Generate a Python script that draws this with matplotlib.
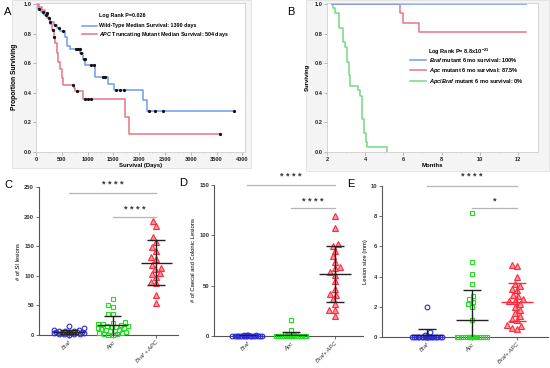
import numpy as np
import matplotlib
matplotlib.use("Agg")
import matplotlib.pyplot as plt
from matplotlib.patches import Rectangle
from matplotlib.lines import Line2D

plt.rcParams['font.family'] = ['Liberation Sans', 'DejaVu Sans']
plt.rcParams['mathtext.fontset'] = 'custom'
plt.rcParams['mathtext.rm'] = 'Liberation Sans:bold'
plt.rcParams['mathtext.it'] = 'Liberation Sans:italic:bold'
plt.rcParams['mathtext.bf'] = 'Liberation Sans:bold'

# ----- panel A: TCGA survival (days) -----
wt_days = [0, 45, 100, 160, 210, 270, 340, 400, 470, 560, 600, 660, 860, 920, 955, 1150, 1390, 1505, 2075, 2155, 3840]
wt_surv = [1.0, 0.97, 0.95, 0.93, 0.91, 0.88, 0.86, 0.84, 0.82, 0.78, 0.72, 0.70, 0.67, 0.63, 0.59, 0.51, 0.46, 0.42, 0.35, 0.28, 0.28]
wt_censor = [65, 130, 195, 272, 370, 454, 532, 778, 811, 843, 876, 921, 940, 1064, 1116, 1291, 1330, 1550, 1635, 1713, 2199, 2303, 2459, 3840]

apc_days = [0, 60, 120, 180, 240, 275, 305, 340, 370, 400, 435, 465, 500, 532, 740, 760, 920, 1720, 1800, 3565]
apc_surv = [1.0, 0.98, 0.96, 0.94, 0.91, 0.87, 0.83, 0.78, 0.74, 0.67, 0.61, 0.56, 0.50, 0.455, 0.435, 0.415, 0.36, 0.24, 0.12, 0.12]
apc_censor = [208, 260, 325, 357, 720, 804, 954, 1006, 1064, 3563]

# ----- panel B: mouse survival (months) -----
braf_m = [2.25, 12.44]
braf_s = [1.0, 1.0]
apcm_m = [2.25, 5.82, 5.96, 6.83, 12.44]
apcm_s = [1.0, 0.94, 0.877, 0.815, 0.815]
combo_m = [2.25, 2.30, 2.42, 2.63, 2.82, 2.94, 3.03, 3.15, 3.22, 3.60, 3.72, 3.83, 3.92, 4.02, 4.11, 5.12]
combo_s = [1.0, 0.977, 0.94, 0.84, 0.745, 0.71, 0.61, 0.52, 0.45, 0.42, 0.38, 0.225, 0.13, 0.067, 0.035, 0.0]

# ----- panels C-E: lesion counts / sizes -----
c_braf = [15, 12, 9, 8, 7, 6, 6, 5, 5, 5, 5, 4, 4, 4, 3, 3, 2, 2, 1, 1, 0]
c_apc = [61, 50, 48, 36, 35, 22, 20, 19, 18, 17, 16, 15, 14, 13, 12, 11, 10, 9, 8, 7, 6, 5, 4, 3, 2, 1, 0, 0]
c_combo = [192, 184, 165, 157, 149, 142, 131, 128, 118, 114, 111, 105, 103, 98, 90, 88, 67, 54]

d_braf = [1, 1, 1, 0.5, 0, 0, 0, 0, 0, 0, 0, 0, 0, 0, 0, 0, 0, 0, 0, 0]
d_apc = [16, 6, 2, 2, 1, 1, 0, 0, 0, 0, 0, 0, 0, 0, 0, 0, 0, 0, 0, 0, 0, 0, 0, 0, 0, 0]
d_combo = [119, 107, 91, 89, 84, 79, 74, 69, 68, 64, 61, 55, 47, 42, 41, 37, 32, 26, 26, 20]

e_braf = [2.0, 0.3, 0.1, 0, 0, 0, 0, 0, 0, 0, 0, 0, 0, 0, 0, 0, 0, 0, 0, 0, 0, 0]
e_apc = [8.2, 5.0, 4.2, 3.5, 2.7, 2.5, 2.3, 2.2, 2.0, 1.1, 0, 0, 0, 0, 0, 0, 0, 0, 0, 0, 0, 0, 0, 0, 0, 0, 0, 0, 0, 0]
e_combo = [4.8, 4.7, 4.0, 3.5, 3.4, 3.2, 3.1, 2.8, 2.7, 2.5, 2.4, 2.4, 2.2, 2.0, 1.8, 1.6, 1.4, 1.2, 1.1, 0.8, 0.7, 0.6, 0.5]

BLUE_KM = "#6f9deb"
RED_KM = "#ea7482"
GREEN_KM = "#78d786"
BLUE = "#2a2ad8"
GREEN = "#22dd22"
RED = "#ff2a3a"

W, H = 550, 368


def box(x0, y0, x1, y1):
    return [x0 / W, 1 - y1 / H, (x1 - x0) / W, (y1 - y0) / H]


def step_value(xs, ys, t):
    i = np.searchsorted(xs, t, side="right") - 1
    return np.asarray(ys)[np.clip(i, 0, len(ys) - 1)]


def style_km(ax):
    for s in ax.spines.values():
        s.set_color("#cfcfcf")
        s.set_linewidth(0.6)
    ax.tick_params(length=2, width=0.5, color="#9a9a9a", labelsize=4.1,
                   labelcolor="#222222", pad=1.5)
    ax.set_ylim(0, 1.013)
    ax.set_yticks([0, 0.2, 0.4, 0.6, 0.8, 1.0])
    ax.set_yticklabels(["0.0", "0.2", "0.4", "0.6", "0.8", "1.0"], fontweight="bold")
    for t in ax.get_xticklabels():
        t.set_fontweight("bold")


def swarm_x(ax, xc, vals, d, half):
    # beeswarm limited to +-half pixels; crowded rows end up overlapping
    vals = np.asarray(vals, dtype=float)
    pix = ax.transData.transform(np.column_stack([np.full(len(vals), xc), vals]))
    y = pix[:, 1]
    x0 = pix[0, 0]
    cands = np.linspace(-half, half, 41)
    cands = cands[np.argsort(np.abs(cands), kind="stable")]
    px, py = [], []
    xs = np.zeros(len(vals))
    for i in np.argsort(y):
        if px:
            dx = cands[:, None] - np.array(px)[None, :]
            dy = y[i] - np.array(py)[None, :]
            mind = np.sqrt(dx ** 2 + dy ** 2).min(axis=1)
            ok = np.where(mind >= d)[0]
            off = cands[ok[0]] if len(ok) else cands[np.argmax(mind)]
        else:
            off = 0.0
        px.append(off)
        py.append(y[i])
        xs[i] = x0 + off
    back = ax.transData.inverted().transform(np.column_stack([xs, y]))
    return back[:, 0]


fig = plt.figure(figsize=(5.5, 3.68), dpi=100)

# light grey JMP panels behind A and B
for x0, y0, x1, y1 in [(12, 0, 251, 168), (306, 0, 549, 171)]:
    fig.add_artist(Rectangle((x0 / W, 1 - y1 / H), (x1 - x0) / W, (y1 - y0) / H,
                             transform=fig.transFigure, facecolor="#f4f4f4",
                             edgecolor="#e0e0e0", linewidth=0.6, zorder=-5))

# ---------------- A ----------------
axA = fig.add_axes(box(36, 2.5, 245, 152))
axA.step(wt_days, wt_surv, where="post", color=BLUE_KM, lw=1.1)
axA.step(apc_days, apc_surv, where="post", color=RED_KM, lw=1.1)
axA.plot(wt_censor, step_value(wt_days, wt_surv, wt_censor), "o", ms=1.3, color="#111111", lw=0)
axA.plot(apc_censor, step_value(apc_days, apc_surv, apc_censor), "o", ms=1.3, color="#111111", lw=0)
axA.set_xlim(0, 4050)
axA.set_xticks(np.arange(0, 4001, 500))
axA.set_xticks(np.arange(0, 4001, 250), minor=True)
axA.tick_params(which="minor", length=1, width=0.4, color="#b0b0b0")
style_km(axA)
axA.set_xlabel("Survival (Days)", fontsize=4.3, fontweight="bold", labelpad=1)
axA.set_ylabel("Proportion Surviving", fontsize=4.8, fontweight="bold", labelpad=4)
legA = axA.legend([Line2D([], [], color=BLUE_KM, lw=1.1), Line2D([], [], color=RED_KM, lw=1.1)],
                  ["Wild-Type Median Survival: 1390 days",
                   r"$\it{APC}$ Truncating Mutant Median Survival: 504 days"],
                  loc="upper left", bbox_to_anchor=(0.22, 0.86),
                  frameon=False, fontsize=3.9, handlelength=2.8,
                  handletextpad=0.4, labelspacing=0.35, borderpad=0, borderaxespad=0)
for t in legA.get_texts():
    t.set_fontweight("bold")
axA.text(0.302, 0.912, "Log Rank P=0.026", transform=axA.transAxes, fontsize=3.9,
         fontweight="bold", ha="left", va="center")
fig.text(8 / W, 1 - 12 / H, "A", fontsize=8, ha="center", va="center")

# ---------------- B ----------------
axB = fig.add_axes(box(327, 2.5, 538, 152))
axB.step(combo_m, combo_s, where="post", color=GREEN_KM, lw=1.1)
axB.step(apcm_m, apcm_s, where="post", color=RED_KM, lw=1.1)
axB.step(braf_m, braf_s, where="post", color=BLUE_KM, lw=1.1)
axB.set_xlim(2, 13.05)
axB.set_xticks([2, 4, 6, 8, 10, 12])
axB.set_xticks(np.arange(2, 13, 1), minor=True)
axB.tick_params(which="minor", length=1, width=0.4, color="#b0b0b0")
style_km(axB)
axB.set_xlabel("Months", fontsize=4.3, fontweight="bold", labelpad=1)
axB.set_ylabel("Surviving", fontsize=4.3, fontweight="bold", labelpad=3)
legB = axB.legend([Line2D([], [], color=BLUE_KM, lw=1.1), Line2D([], [], color=RED_KM, lw=1.1),
                   Line2D([], [], color=GREEN_KM, lw=1.1)],
                  [r"$\it{Braf}$ mutant 6 mo survival: 100%",
                   r"$\it{Apc}$ mutant 6 mo survival: 87.5%",
                   r"$\it{Apc/Braf}$ mutant 6 mo survival: 0%"],
                  loc="upper left", bbox_to_anchor=(0.393, 0.64), frameon=False,
                  fontsize=4.1, handlelength=2.9, handletextpad=0.4,
                  labelspacing=0.35, borderpad=0, borderaxespad=0)
for t in legB.get_texts():
    t.set_fontweight("bold")
axB.text(0.48, 0.669, r"Log Rank P= 8.8x10$^{-21}$", transform=axB.transAxes,
         fontsize=4.1, fontweight="bold", ha="left", va="center")
fig.text(291 / W, 1 - 12 / H, "B", fontsize=8, ha="center", va="center")


# ---------------- C, D, E ----------------
def dot_panel(rect, xlim, ylim, yticks, data, ylabel, xlabels, sig, letter, combo_bar_red=False):
    ax = fig.add_axes(box(*rect))
    ax.set_xlim(*xlim)
    ax.set_ylim(*ylim)
    for s in ["top", "right"]:
        ax.spines[s].set_visible(False)
    for s in ["left", "bottom"]:
        ax.spines[s].set_color("#555555")
        ax.spines[s].set_linewidth(0.8)
    ax.set_yticks(yticks)
    ax.set_yticklabels([str(v) for v in yticks], fontweight="bold")
    ax.set_xticks([1, 2, 3])
    ax.set_xticklabels(xlabels, rotation=45, ha="right", rotation_mode="anchor",
                       fontstyle="italic", fontsize=4.2)
    ax.tick_params(axis="both", length=2, width=0.6, color="#555555", labelsize=4.2,
                   labelcolor="#333333", pad=1.5)
    ax.set_ylabel(ylabel, fontsize=4.2, labelpad=2)
    styles = [("o", BLUE, "none", 3.4), ("s", GREEN, "none", 3.3), ("^", RED, "#ff9aa5", 3.9)]
    for k, (vals, (mk, ec, fc, ms)) in enumerate(zip(data, styles)):
        xs = swarm_x(ax, k + 1, vals, ms * 1.35, 15)
        ax.plot(xs, vals, mk, ms=ms, mec=ec, mfc=fc, mew=0.8, lw=0, clip_on=False, zorder=3)
        m, sd = np.mean(vals), np.std(vals, ddof=1)
        bc = RED if (combo_bar_red and k == 2) else "#222222"
        ax.hlines(m, k + 1 - 0.36, k + 1 + 0.36, color=bc, lw=1.0, zorder=4)
        ax.hlines([m - sd, m + sd], k + 1 - 0.2, k + 1 + 0.2, color=bc, lw=1.0, zorder=4)
        ax.vlines(k + 1, max(m - sd, ylim[0]), m + sd, color=bc, lw=1.0, zorder=4)
    for (a, b, yl, ys, txt) in sig:
        ax.plot([a, b], [yl, yl], color="#b5b5b5", lw=0.9, clip_on=False)
        ax.text((a + b) / 2, ys, txt, ha="center", va="center", fontsize=6.5,
                fontweight="bold", color="#333333", clip_on=False)
    fig.text((rect[0] - 31) / W, 1 - (rect[1] - 2) / H, letter, fontsize=8,
             ha="center", va="center")
    return ax


dot_panel((39, 187, 178, 335), (0.31, 3.5), (0, 250), [0, 50, 100, 150, 200, 250],
          [c_braf, c_apc, c_combo], "# of SI lesions", ["Braf", "Apc", "Braf + APC"],
          [(1, 3, 240, 255, "* * * *"), (2, 3, 199, 212, "* * * *")], "C")
dot_panel((214, 185, 363, 336), (0.24, 3.64), (0, 150), [0, 50, 100, 150],
          [d_braf, d_apc, d_combo], "# of Caecal and Colonic Lesions",
          ["Braf", "Apc", "Braf+ APC"],
          [(1, 3, 150, 158, "* * * *"), (2, 3, 127, 134, "* * * *")], "D")
dot_panel((382, 186, 548, 337), (0.0, 3.69), (0, 10), [0, 2, 4, 6, 8, 10],
          [e_braf, e_apc, e_combo], "Lesion size (mm)", ["Braf", "Apc", "Braf+ APC"],
          [(1, 3, 10, 10.6, "* * * *"), (2, 3, 8.54, 9.0, "*")], "E", combo_bar_red=True)

fig.savefig("out.png", dpi=100)
